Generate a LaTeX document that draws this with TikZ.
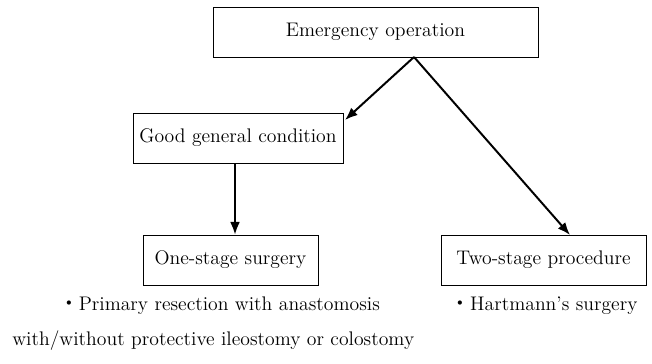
\documentclass[tikz,border=0pt]{standalone}
\usepackage{fontspec}
\newfontfamily\cjk{Noto Sans CJK JP}
\usetikzlibrary{arrows.meta}
\tikzset{
  box/.style={draw,line width=0.5pt,minimum height=50*0.025cm,inner sep=0pt,font=\fontsize{14}{17}\selectfont},
  flow/.style={line width=1.4pt,-{Latex[length=9pt,width=7pt]}},
  note/.style={font=\fontsize{14}{17}\selectfont,inner sep=0pt}
}
\begin{document}
\begin{tikzpicture}[x=0.025cm,y=-0.025cm]
\useasboundingbox (0,0) rectangle (652,363);
\node[box,minimum width=325*0.025cm] (emer) at (375.5,32) {Emergency operation};
\node[box,minimum width=210*0.025cm] (good) at (238,138) {Good general condition};
\node[box,minimum width=175*0.025cm] (one) at (230.5,260) {One-stage surgery};
\node[box,minimum width=205*0.025cm] (two) at (543.5,260) {Two-stage procedure};
\coordinate (split) at (414,57);
\coordinate (gtip) at (345,120);
\coordinate (ttip) at (570,235);
\draw[flow] (split) -- (gtip);
\draw[flow] (split) -- (ttip);
\draw[flow] (good.south -| 235,0) -- (one.north -| 235,0);
\node[note] (prim) at (219.5,306) {{\cjk ・}Primary resection with anastomosis};
\node[note,anchor=west] (prim2) at (12,341) {with/without protective ileostomy or colostomy};
\node[note] (hart) at (544,306) {{\cjk ・}Hartmann's surgery};
\end{tikzpicture}
\end{document}
